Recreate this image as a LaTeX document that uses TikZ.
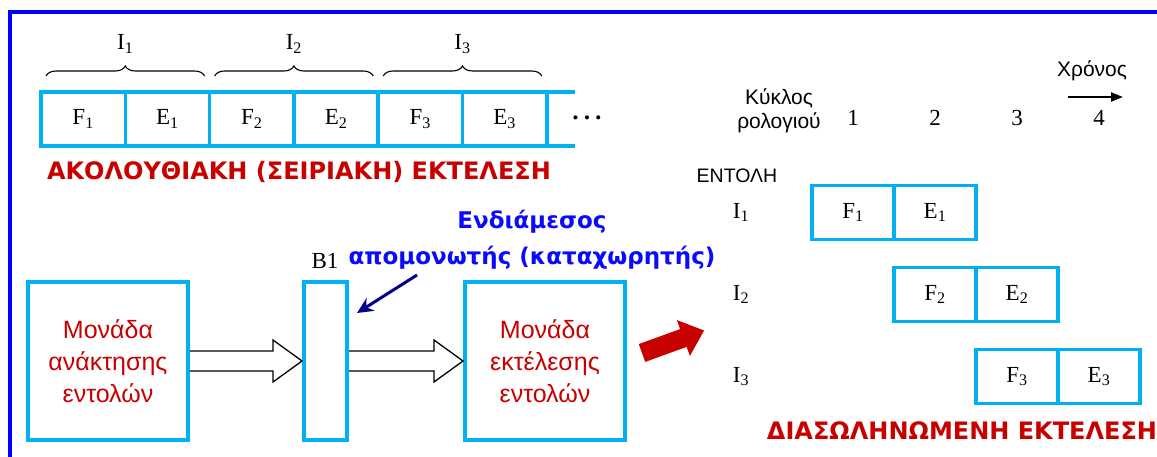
\documentclass[tikz,border=0pt]{standalone}
\usepackage{fontspec}
\setmainfont{Liberation Serif}
\newfontfamily\sansfont{Liberation Sans}
\newfontfamily\headfont{DejaVu Sans}
\usetikzlibrary{positioning,calc,decorations.pathreplacing,arrows.meta}

\definecolor{framblue}{RGB}{0,0,255}
\definecolor{cellcyan}{RGB}{0,176,240}
\definecolor{titlered}{RGB}{200,0,0}
\definecolor{noteblue}{RGB}{10,10,255}
\definecolor{ptrnavy}{RGB}{0,0,140}

\tikzset{
  cell/.style={draw=cellcyan, line width=3.5pt, minimum height=54pt, outer sep=0pt, inner sep=0pt, font=\fontsize{23}{26}\selectfont},
  unit/.style={draw=cellcyan, line width=4pt, minimum height=158pt, text=titlered, align=center, font=\sansfont\fontsize{25}{32}\selectfont},
  serif/.style={inner sep=0pt, font=\fontsize{23}{26}\selectfont},
  sans/.style={inner sep=0pt, align=center, font=\sansfont\fontsize{21}{24}\selectfont},
  heading/.style={inner sep=0pt, text=titlered, font=\headfont\bfseries\fontsize{24}{28}\selectfont},
  hollow/.style={draw=black, line width=1.3pt, fill=white},
}

\newcommand{\hollowarrow}[2]{%
  \draw[hollow] ($(#1.east)+(0,-10)$) -- ($(#2.west)+(-29,-10)$) -- ($(#2.west)+(-29,-21)$)
    -- (#2.west) -- ($(#2.west)+(-29,21)$) -- ($(#2.west)+(-29,10)$) -- ($(#1.east)+(0,10)$);}

\begin{document}
\begin{tikzpicture}[x=1pt,y=-1pt]
    \useasboundingbox (0,0) rectangle (1157,457);
    \draw[framblue, line width=4pt] (1160,12) -- (10,12) -- (10,460);

    % sequentielle Ausfuehrung
    \foreach \k in {1,2,3} {
        \node[cell, minimum width=84.3pt] (f\k) at ({83.15+168.6*(\k-1)},119) {F\textsubscript{\k}};
        \node[cell, minimum width=84.3pt, right=0pt of f\k] (e\k) {E\textsubscript{\k}};
        \draw[decorate, decoration={brace, amplitude=10pt}, line width=1.1pt]
            ($(f\k.north west)+(5,-16)$) -- ($(e\k.north east)+(-5,-16)$);
        \node[serif] (i\k) at ($(f\k.north east)+(0,-48)$) {I\textsubscript{\k}};
    }
    \draw[cellcyan, line width=3.5pt] (e3.north east) -- ++(28,0) (e3.south east) -- ++(28,0);
    \node[inner sep=0pt, font=\fontsize{17}{17}\selectfont] (dots) at (587,120) {•\hspace{5.5pt}•\hspace{5.5pt}•};
    \node[heading] (seqtitle) at (299,172) {ΑΚΟΛΟΥΘΙΑΚΗ (ΣΕΙΡΙΑΚΗ) ΕΚΤΕΛΕΣΗ};

    % Einheiten mit Puffer
    \node[unit, minimum width=160pt] (fetch) at (108,361) {Μονάδα\\ανάκτησης\\εντολών};
    \node[unit, minimum width=43pt] (buf) at (325.5,361) {};
    \node[unit, minimum width=160pt] (exec) at (545,361) {Μονάδα\\εκτέλεσης\\εντολών};
    \node[serif] (buflabel) at (325,261) {B1};
    \hollowarrow{fetch}{buf}
    \hollowarrow{buf}{exec}
    \node[inner sep=0pt, align=center, text=noteblue, font=\headfont\bfseries\fontsize{23}{36}\selectfont]
        (note) at (532,240) {Ενδιάμεσος\\απομονωτής (καταχωρητής)};
    \coordinate (ptrtail) at (417,275);
    \coordinate (ptrtip) at (357,313);
    \draw[ptrnavy, line width=3pt, -{Stealth[length=16pt, width=15pt]}] (ptrtail) -- (ptrtip);
    \fill[titlered] (638.8,344.1) -- (680.1,329.1) -- (676.9,320.1) -- (704.1,330.5)
        -- (689.9,355.9) -- (686.6,346.9) -- (645.2,361.9) -- cycle;

    % Pipeline
    \node[sans] (cycle) at (779,111) {Κύκλος\\ρολογιού};
    \foreach \n in {1,...,4}
        \node[serif] (c\n) at ({853+82*(\n-1)},118) {\n};
    \node[sans] (time) at (1092,71) {Χρόνος};
    \coordinate (tstart) at (1068,97);
    \coordinate (tend) at (1123,97);
    \draw[line width=2pt, -{Triangle[length=12pt, width=9pt]}] (tstart) -- (tend);
    \node[sans, font=\sansfont\fontsize{19.5}{22}\selectfont] (instr) at (737,176) {ΕΝΤΟΛΗ};
    \foreach \i in {1,2,3} {
        \node[cell, minimum width=82pt] (pf\i) at ({853+82*(\i-1)},{212.5+82*(\i-1)}) {F\textsubscript{\i}};
        \node[cell, minimum width=82pt, right=0pt of pf\i] (pe\i) {E\textsubscript{\i}};
        \node[serif] (row\i) at (741,{212.5+82*(\i-1)}) {I\textsubscript{\i}};
    }
    \node[heading] (pipetitle) at (962,431) {ΔΙΑΣΩΛΗΝΩΜΕΝΗ ΕΚΤΕΛΕΣΗ};
\end{tikzpicture}
\end{document}
